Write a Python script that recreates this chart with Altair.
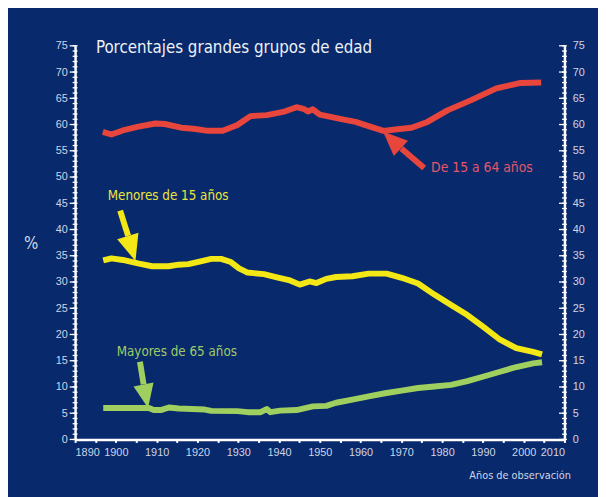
import altair as alt
import pandas as pd

# ---------------- data ----------------
red_years = [1896.8, 1898.9, 1902.2, 1905.5, 1909.7, 1912, 1916, 1919, 1922.6, 1926.2,
             1929.8, 1933, 1937, 1941, 1944.3, 1946, 1947.1, 1948.3, 1950, 1955.6,
             1958.8, 1961.2, 1965.6, 1969, 1972.5, 1976.4, 1981.3, 1987, 1993.3, 1999, 2004.3]
red_vals = [58.6, 58.1, 59.0, 59.6, 60.2, 60.1, 59.4, 59.2, 58.8, 58.8,
            59.9, 61.6, 61.8, 62.4, 63.3, 63.0, 62.5, 62.9, 61.9, 61.0,
            60.5, 59.9, 58.8, 59.1, 59.4, 60.5, 62.7, 64.6, 66.9, 67.9, 68.0]

yel_years = [1896.9, 1898.9, 1901.7, 1905.7, 1908.9, 1912.9, 1915.4, 1917.8, 1920.5, 1923.4,
             1925.8, 1928.2, 1930.2, 1932.3, 1936.3, 1939.5, 1942.7, 1945.1, 1947.5, 1949.2,
             1951.6, 1954, 1958, 1962, 1966.4, 1970.1, 1974.1, 1978.1, 1982.2, 1986.2,
             1990.2, 1994.2, 1998.2, 2002.3, 2004.5]
yel_vals = [34.1, 34.5, 34.2, 33.5, 33.0, 33.0, 33.3, 33.4, 33.9, 34.4,
            34.4, 33.8, 32.6, 31.8, 31.5, 30.9, 30.3, 29.5, 30.1, 29.8,
            30.6, 30.95, 31.1, 31.6, 31.6, 30.8, 29.7, 27.6, 25.6, 23.7,
            21.4, 19.0, 17.4, 16.7, 16.2]

grn_years = [1896.9, 1908.1, 1909.3, 1911, 1913, 1915.4, 1918.6, 1921.8, 1923.4, 1929.8,
             1932.3, 1935.5, 1937, 1937.9, 1940.3, 1944.3, 1948.3, 1951.6, 1954, 1958,
             1962, 1966, 1970.1, 1974.1, 1978.1, 1982.2, 1986.2, 1990.2, 1994.2, 1998.2,
             2002.3, 2004.5]
grn_vals = [6.0, 6.0, 5.6, 5.6, 6.1, 5.9, 5.8, 5.7, 5.45, 5.4,
            5.2, 5.2, 5.8, 5.2, 5.5, 5.6, 6.3, 6.4, 7.0, 7.6,
            8.2, 8.8, 9.3, 9.8, 10.1, 10.4, 11.1, 12.0, 12.9, 13.8,
            14.5, 14.7]

y_minor = list(range(0, 76))
y_major = list(range(0, 76, 5))
x_ticks = list(range(1890, 2011, 5))

title_text = "Porcentajes grandes grupos de edad"
labels = ["De 15 a 64 años", "Menores de 15 años", "Mayores de 65 años"]
label_year = [1977.3, 1898.0, 1900.2]
label_val = [51.7, 46.4, 16.7]
# arrow: tail -> base of head -> tip (data coordinates)
arrow_tail_year = [1975.6, 1901.05, 1905.9]
arrow_tail_val = [51.7, 43.6, 14.8]
arrow_base_year = [1970.0, 1903.0, 1906.8]
arrow_base_val = [55.45, 38.8, 10.5]
arrow_tip_year = [1965.5, 1904.8, 1907.9]
arrow_tip_val = [58.65, 34.0, 6.0]
arrow_angle = [313, 163, 169]
arrow_size = [620, 700, 590]

NAVY = "#08296b"
RED = "#e8463c"
YEL = "#f3e816"
GRN = "#9fcf5f"
LBL = "#cfd5e6"
colors = [RED, YEL, GRN]
text_colors = ["#e4566a", "#ece43a", "#9dcb67"]

W, H = 496, 399
xs = alt.Scale(domain=[1890, 2010], nice=False, zero=False)
ys = alt.Scale(domain=[0, 75], nice=False, zero=False)
NUMFONT = "Liberation Sans Narrow, Liberation Sans, Arial"
TXTFONT = "DejaVu Sans Condensed, DejaVu Sans"

def series_df(years, vals):
    return pd.DataFrame({"year": years, "val": vals})

layers = []

x_axis = alt.Axis(values=x_ticks, format="d",
                  labelExpr="datum.value % 10 == 0 ? datum.label : ''",
                  labelColor=LBL, labelFont=NUMFONT, labelFontSize=11,
                  labelPadding=4, tickSize=3, tickWidth=2, tickColor="white",
                  domainColor="white", domainWidth=2.5, grid=False,
                  title="Años de observación", titleColor=LBL, titleFont=TXTFONT,
                  titleFontSize=11, titleFontWeight="normal", titleAnchor="end",
                  titleAlign="right", titleBaseline="middle", titleX=W + 6, titleY=37)
left_axis = alt.Axis(values=y_major, format="d", labelColor=LBL, labelFont=NUMFONT,
                     labelFontSize=11, labelPadding=8, tickSize=0,
                     domainColor="white", domainWidth=2.5, grid=False,
                     title="%", titleAngle=0, titleColor=LBL, titleFont=TXTFONT,
                     titleFontSize=17, titleFontWeight="normal", titleAlign="center",
                     titleBaseline="middle", titleX=-45, titleY=200)
right_axis = alt.Axis(values=y_major, format="d", orient="right", labelColor=LBL,
                      labelFont=NUMFONT, labelFontSize=11, labelPadding=8, tickSize=0,
                      domainColor="white", domainWidth=2.5, grid=False, title=None)

line_style = dict(strokeWidth=6, strokeCap="butt", strokeJoin="round")

layers.append(alt.Chart(series_df(red_years, red_vals)).mark_line(color=RED, **line_style).encode(
    x=alt.X("year:Q", scale=xs, axis=x_axis),
    y=alt.Y("val:Q", scale=ys, axis=left_axis)))
layers.append(alt.Chart(series_df(yel_years, yel_vals)).mark_line(color=YEL, **line_style).encode(
    x=alt.X("year:Q", scale=xs, axis=None),
    y=alt.Y("val:Q", scale=ys, axis=right_axis)))
layers.append(alt.Chart(series_df(grn_years, grn_vals)).mark_line(color=GRN, **line_style).encode(
    x=alt.X("year:Q", scale=xs, axis=None),
    y=alt.Y("val:Q", scale=ys, axis=None)))

# minor & major ticks on both vertical axes
minor_df = pd.DataFrame({"v": y_minor})
major_df = pd.DataFrame({"v": y_major})
for x0, x1, d in [(-2.5, 2.5, minor_df), (W - 2.5, W + 2.5, minor_df),
                  (-5.5, 1, major_df), (W - 5.5, W + 1, major_df)]:
    layers.append(alt.Chart(d).mark_rule(color="white", strokeWidth=1.3).encode(
        x=alt.value(x0), x2=alt.value(x1),
        y=alt.Y("v:Q", scale=ys, axis=None)))

# title
layers.append(alt.Chart(pd.DataFrame({"t": [title_text], "year": [1895.1], "val": [74.6]}))
              .mark_text(align="left", baseline="middle", font=TXTFONT, fontSize=17,
                         color="#eef1f7")
              .encode(x=alt.X("year:Q", scale=xs, axis=None),
                      y=alt.Y("val:Q", scale=ys, axis=None), text="t:N"))

# annotations
label_sizes = [14, 13.5, 13.5]
for i in range(3):
    adf = pd.DataFrame({"t": [labels[i]], "year": [label_year[i]], "val": [label_val[i]],
                        "ty": [arrow_tail_year[i]], "tv": [arrow_tail_val[i]],
                        "by": [arrow_base_year[i]], "bv": [arrow_base_val[i]],
                        "py": [arrow_tip_year[i]], "pv": [arrow_tip_val[i]]})
    base = alt.Chart(adf)
    layers.append(base.mark_text(align="left", baseline="middle", font=TXTFONT,
                                 fontSize=label_sizes[i], color=text_colors[i]).encode(
        x=alt.X("year:Q", scale=xs, axis=None),
        y=alt.Y("val:Q", scale=ys, axis=None), text="t:N"))
    layers.append(base.mark_rule(color=colors[i], strokeWidth=6, strokeCap="butt").encode(
        x=alt.X("ty:Q", scale=xs, axis=None), y=alt.Y("tv:Q", scale=ys, axis=None),
        x2="by:Q", y2="bv:Q"))
    layers.append(base.mark_point(shape="M0,0L-0.85,2L0.85,2Z", filled=True, opacity=1,
                                  color=colors[i], size=arrow_size[i],
                                  angle=arrow_angle[i], strokeWidth=0).encode(
        x=alt.X("py:Q", scale=xs, axis=None), y=alt.Y("pv:Q", scale=ys, axis=None)))

chart = alt.layer(*layers).resolve_axis(x="independent", y="independent").properties(
    width=W, height=H,
    autosize=alt.AutoSizeParams(type="none"),
    padding={"left": 68, "top": 35, "right": 34, "bottom": 55},
    background=NAVY,
).configure_view(stroke=None)

chart.save("out.html", embed_options={"renderer": "svg", "actions": False})
